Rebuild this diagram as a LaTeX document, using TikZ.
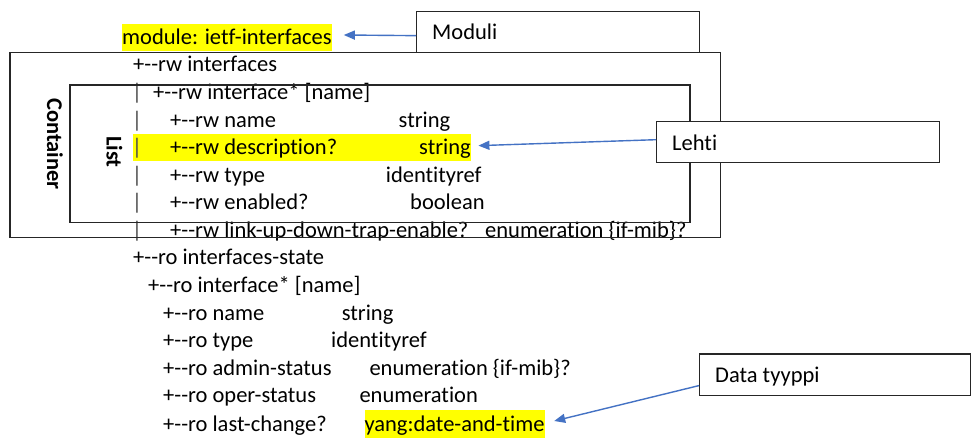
\documentclass[tikz,border=0pt]{standalone}
\usepackage{fontspec}
\setmainfont{Carlito}[Ligatures={TeXOff,NoCommon}]
\usetikzlibrary{arrows.meta,calc}
\definecolor{hl}{RGB}{255,255,0}
\definecolor{arrblue}{RGB}{68,114,196}
\definecolor{frame}{RGB}{38,38,38}
\begin{document}
\begin{tikzpicture}[x=1pt,y=-1pt,
  txt/.style={anchor=base west, inner sep=0pt, font=\fontsize{22.5}{27.5}\selectfont},
  hltxt/.style={txt, fill=hl, text height=21pt, text depth=6.5pt},
  barc/.style={anchor=base, inner sep=0pt, font=\fontsize{22.5}{27.5}\selectfont, text=black!70},
  frm/.style={draw=frame, line width=1.3pt},
  callout/.style={draw=frame, line width=1.3pt, fill=white, anchor=north west, inner sep=0pt},
  arr/.style={draw=arrblue, line width=1.4pt, -{Triangle[length=11pt,width=9pt]}},
  rotlbl/.style={rotate=-90, font=\fontsize{22.5}{27.5}\selectfont\bfseries, inner sep=0pt}
]
\useasboundingbox[fill=white] (0,0) rectangle (972,438);

% highlight behind description row
\node[fill=hl, inner sep=0pt, minimum width=337.6pt, minimum height=27.5pt, anchor=north west] (deschl) at (133,133.7) {};

% module label
\node[hltxt] (modlbl) at (122,45) {module: ietf-interfaces};

% rw tree
\node[txt] (r0) at (133,72) {+--rw interfaces};
\node[barc] (b1) at (137,99.6) {|};
\node[txt] (r1) at (153,99.6) {+--rw interface* [name]};
\node[barc] (b2) at (137,127.1) {|};
\node[txt] (r2) at (170,127.1) {+--rw name};
\node[txt] (r2t) at (398.5,127.1) {string};
\node[barc] (b3) at (137,154.7) {|};
\node[txt] (r3) at (170,154.7) {+--rw description?};
\node[txt] (r3t) at (419,154.7) {string};
\node[barc] (b4) at (137,182.3) {|};
\node[txt] (r4) at (170,182.3) {+--rw type};
\node[txt] (r4t) at (385.7,182.3) {identityref};
\node[barc] (b5) at (137,209.9) {|};
\node[txt] (r5) at (170,209.9) {+--rw enabled?};
\node[txt] (r5t) at (410,209.9) {boolean};
\node[barc] (b6) at (137,237.4) {|};
\node[txt] (r6) at (170,237.4) {+--rw link-up-down-trap-enable?};
\node[txt] (r6t) at (485,237.4) {enumeration \{if-mib\}?};

% ro tree
\node[txt] (s0) at (133,265) {+--ro interfaces-state};
\node[txt] (s1) at (148,292.6) {+--ro interface* [name]};
\node[txt] (s2) at (163,320.1) {+--ro name};
\node[txt] (s2t) at (341.7,320.1) {string};
\node[txt] (s3) at (163,347.7) {+--ro type};
\node[txt] (s3t) at (331,347.7) {identityref};
\node[txt] (s4) at (163,375.3) {+--ro admin-status};
\node[txt] (s4t) at (369.3,375.3) {enumeration \{if-mib\}?};
\node[txt] (s5) at (163,402.9) {+--ro oper-status};
\node[txt] (s5t) at (359.3,402.9) {enumeration};
\node[txt] (s6) at (163,431) {+--ro last-change?};
\node[hltxt] (yang) at (364.3,431) {yang:date-and-time};

% container and list frames
\draw[frm] (10,52.5) rectangle (720.5,237.5);
\draw[frm] (70,85) rectangle (690,222.5);
\node[rotlbl] (contlbl) at (55,144) {Container};
\node[rotlbl] (listlbl) at (114.5,152) {List};

% callout boxes
\node[callout, minimum width=283pt, minimum height=41pt] (moduli) at (416,11) {};
\node[txt] (modulitxt) at (432,40) {Moduli};
\node[callout, minimum width=283pt, minimum height=41.3pt] (lehti) at (656,120.7) {};
\node[txt] (lehtitxt) at (672,150.7) {Lehti};
\node[callout, minimum width=271pt, minimum height=41.7pt] (data) at (699,353.3) {};
\node[txt] (datatxt) at (715,382) {Data tyyppi};

% arrows
\draw[arr] ($(moduli.west)+(0,3.5)$) -- ($(modlbl.east)+(12,-2.75)$);
\draw[arr] ($(lehti.west)+(0,-2.3)$) -- ($(deschl.east)+(7.4,-2)$);
\draw[arr] ($(data.west)+(0,10.8)$) -- ($(yang.east)+(9.5,-2.75)$);
\end{tikzpicture}
\end{document}
